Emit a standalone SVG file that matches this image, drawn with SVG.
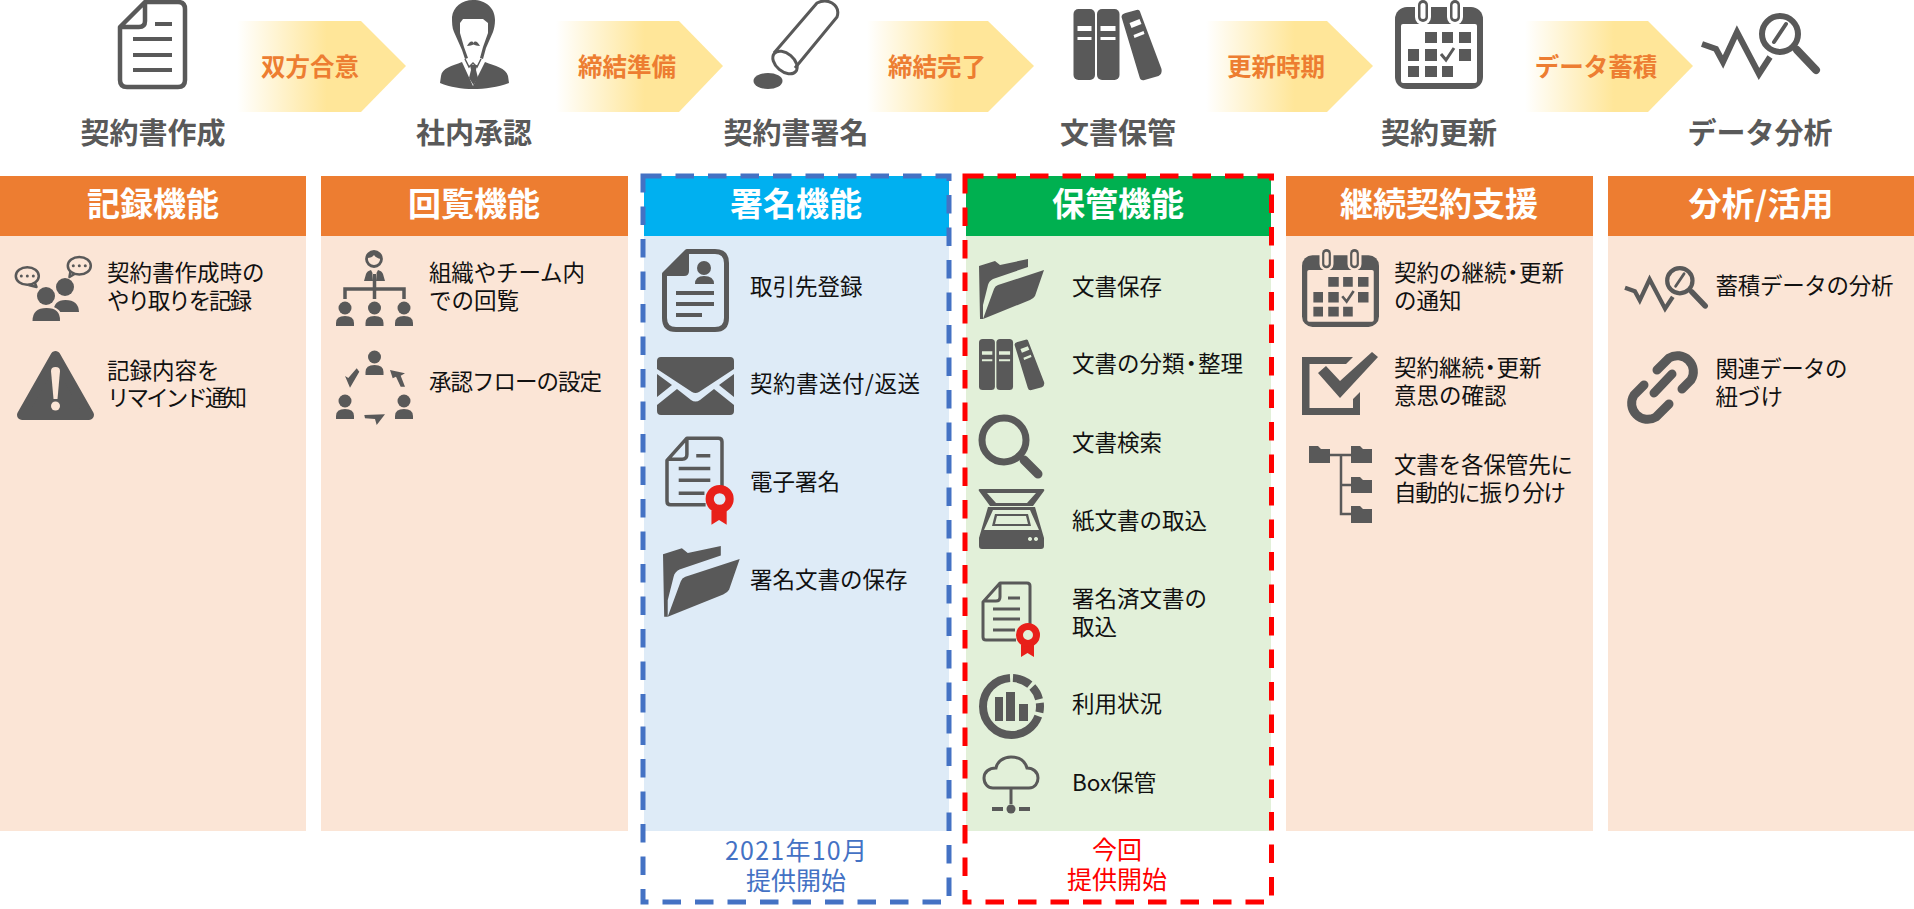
<svg xmlns="http://www.w3.org/2000/svg" width="1914" height="909" viewBox="0 0 1914 909">
<style>
text{font-family:"Noto Sans CJK JP","Noto Sans",sans-serif;dominant-baseline:central}
.d{fill:#595959}
.s{fill:none;stroke:#595959}
.b{font-size:22.5px;fill:#111}
.st{font-size:29px;font-weight:700;fill:#595959;text-anchor:middle}
.hd{font-size:33px;font-weight:700;fill:#fff;text-anchor:middle}
.ar{font-size:24.5px;font-weight:700;fill:#ED7D31;text-anchor:middle}
.ft{font-size:25px;text-anchor:middle}
.or{fill:#ED7D31}.ot{fill:#FBE5D6}
</style>
<defs>
<linearGradient id="gr" x1="0" x2="1" y1="0" y2="0"><stop offset="0" stop-color="#FFE699" stop-opacity="0"/><stop offset=".53" stop-color="#FFE699"/><stop offset="1" stop-color="#FFE699"/></linearGradient>
<symbol id="doc" overflow="visible"><path class="s" stroke-width="4.500" stroke-linejoin="round" d="M27 2H60Q67 2 67 9V80Q67 87 60 87H9Q2 87 2 80V27ZM27 2V21Q27 27 21 27H2"/><path class="s" stroke-width="4" d="M37 24H54M15 39H54M15 55H54M15 70H54"/></symbol>
<symbol id="binder" overflow="visible"><rect class="d" x="0" y="0" width="21.500" height="71" rx="5"/><rect class="d" x="23.500" y="0" width="22.500" height="71" rx="5"/><path class="d" d="M48 8Q48 5 52 4L63 1Q66 0 67 4L88 60Q89 65 85 67L71 71Q67 72 66 68Z"/><path d="M4 17H18V22H4ZM4 28H18V31H4ZM27 17H42V22H27ZM27 28H42V31H27ZM56 14L66 10L68 15L58 19ZM60 26L70 22L71 25L61 29Z"/></symbol>
<symbol id="cal" overflow="visible"><rect class="d" x="0" y="7" width="88" height="82" rx="12"/><rect x="6" y="24" width="76" height="59" rx="2"/><rect x="20" y="-1" width="16" height="26" rx="8"/><rect x="52" y="-1" width="16" height="26" rx="8"/><rect class="d" x="23" y="0" width="10" height="22" rx="5"/><rect class="d" x="55" y="0" width="10" height="22" rx="5"/><rect x="25.500" y="3" width="5" height="16" rx="2.500"/><rect x="57.500" y="3" width="5" height="16" rx="2.500"/><path class="d" d="M30 32H42V43H30ZM47 32H58V43H47ZM64 32H76V43H64ZM13 49H24V61H13ZM30 49H42V61H30ZM64 49H76V61H64ZM13 66H24V77H13ZM30 66H42V77H30ZM47 66H58V77H47Z"/><path class="s" stroke-width="3" d="M46 54L51 60L59 48"/></symbol>
<symbol id="mag" overflow="visible"><path class="s" stroke-width="6" d="M0 31L14 36L21 49L35 19L57 61L68 44"/><circle class="s" cx="78" cy="21" r="18" stroke-width="6"/><path class="s" stroke-width="8" stroke-linecap="round" d="M95 37L114 57"/><path class="s" stroke-width="4" stroke-linecap="round" d="M84 11L72 29"/></symbol>
<symbol id="folder" overflow="visible"><path class="d" d="M0 7L16 2L21 6L49 0V8L14 20Q10 22 9 26L4 46L4 60H1ZM65 11L19 26Q16 27 15 30L4 60L51 41Q55 39 56 37Z"/></symbol>
<symbol id="lens" overflow="visible"><circle class="s" cx="25" cy="26" r="22" stroke-width="7"/><path class="s" stroke-width="4" d="M38 39L45 47"/><path class="s" stroke-width="9" stroke-linecap="round" d="M45 46L59 60"/></symbol>
<symbol id="scan" overflow="visible"><path class="d" d="M1 0H64Q66 0 65 2L54 17H11L0 2Q-1 0 1 0ZM9 18H56L65 49V57Q65 60 62 60H3Q0 60 0 57V49Z"/><path d="M8 4H57L48 14H17ZM14 21H51L60 41H5Z"/><path class="d" d="M16 25H49L52 37H13Z"/><path d="M18 27H47L49 35H16ZM51 48a2 2 0 1 0 .01 0ZM57 48a2 2 0 1 0 .01 0Z"/></symbol>
<symbol id="cert" overflow="visible"><path class="s" stroke-width="3" stroke-linejoin="round" d="M33 58H3Q0 58 0 55V20L17 1H44Q47 1 47 4V42M17 1V15Q17 19 13 19H0"/><path class="s" stroke-width="3" d="M25 16H37M10 27H37M10 37H37M10 48H32"/><path d="M38 63H51V75L44.500 71L38 75Z" fill="#E8201A"/><circle cx="45" cy="53" r="8.500" fill="none" stroke="#E8201A" stroke-width="7"/></symbol>
<symbol id="contact" overflow="visible"><path class="s" stroke-width="5" stroke-linejoin="round" d="M25 2.500H53Q64.500 2.500 64.500 14V69Q64.500 80.500 53 80.500H14Q2.500 80.500 2.500 69V25Z"/><path class="d" d="M27 1V22Q27 27 22 27H1Z"/><circle class="d" cx="42" cy="19" r="7"/><path class="d" d="M33 35Q33 27 42 27Q52 27 52 35Z"/><path class="s" stroke-width="4" d="M14 44H52M14 55H52M14 66H40"/></symbol>
<symbol id="env" overflow="visible"><path class="d" d="M4 0H73Q77 0 77 4V12L42 35Q38.500 37 35 35L0 12V4Q0 0 4 0ZM0 17L15 28L0 40ZM77 17V40L62 28ZM0 48L20 32L34 43Q38.500 46 43 43L57 32L77 48V54Q77 58 73 58H4Q0 58 0 54Z"/></symbol>
<symbol id="p" overflow="visible"><circle class="d" cx="0" cy="0" r="6.500"/><path class="d" d="M-9 18V15Q-9 8 0 8Q9 8 9 15V18Z"/></symbol>
<symbol id="dial" overflow="visible"><circle cx="32.500" cy="32.500" r="28.500" fill="none" stroke="#595959" stroke-width="8" pathLength="360" stroke-dasharray="37 7 28 8 19 8 247 6" stroke-dashoffset="-3" transform="rotate(-90 32.500 32.500)"/><path class="d" d="M16 23H24V47H16ZM27 18H36V47H27ZM40 30H49V47H40Z"/></symbol>
</defs>

<g id="connectors">
<path fill="url(#gr)" d="M237 21H361L406 66L361 112H237Z"/>
<path fill="url(#gr)" d="M556 21H679L723 66L679 112H556Z"/>
<path fill="url(#gr)" d="M867 21H988L1034 66L988 112H867Z"/>
<path fill="url(#gr)" d="M1206 21H1327L1373 66L1327 112H1206Z"/>
<path fill="url(#gr)" d="M1525 21H1648L1693 66L1648 112H1525Z"/>
<text class="ar" x="310" y="65">双方合意</text>
<text class="ar" x="627" y="65">締結準備</text>
<text class="ar" x="937" y="65">締結完了</text>
<text class="ar" x="1276" y="65">更新時期</text>
<text class="ar" x="1596" y="65">データ蓄積</text>
</g>

<g id="step-create"><use href="#doc" transform="translate(118 0)"/><text class="st" x="153" y="131">契約書作成</text></g>
<g id="step-approve">
<g transform="translate(440 0)">
<path class="d" d="M33 0C46 0 55 8 55 20C55 25 54 29 53 32L46 48L43 59L40 58L43 47L48 33L48 23L43 19H23L20 23L20 33L24 47L28 58L25 59L22 50L14 32C12 28 12 22 12 17C13 7 22 0 33 0Z"/>
<path class="d" d="M33.500 43C35 40 38 42 40 46C37 46 35 45 33.500 44.500C32 45 30 46 27 46C29 42 32 40 33.500 43Z"/>
<path class="d" d="M22 62C12 66 2 68 1 76L0 83C10 87 22 89 33 89C45 89 58 87 69 83L68 76C66 68 55 66 45 62L33 86Z"/>
<path class="s" stroke-width="1.500" d="M25 59L29 67L33 63L37 67L41 59"/>
<path class="d" d="M30 65H37L36 70L38 78L33.500 85L29 78L31 70Z"/>
</g>
<text class="st" x="474" y="131">社内承認</text></g>
<g id="step-sign">
<path class="s" stroke-width="3" d="M774 53L817 3Q825 -1 832 3Q840 8 837 17L795 68"/>
<ellipse class="s" cx="785" cy="62.500" rx="14" ry="9" transform="rotate(40 785 62.500)" stroke-width="3"/>
<ellipse class="d" cx="768" cy="81" rx="14.500" ry="8"/>
<text class="st" x="796" y="131">契約書署名</text></g>
<g id="step-store"><use href="#binder" fill="#fff" transform="translate(1073.500 9)"/><text class="st" x="1118" y="131">文書保管</text></g>
<g id="step-renew"><use href="#cal" fill="#fff" transform="translate(1395 0)"/><text class="st" x="1439" y="131">契約更新</text></g>
<g id="step-analyze"><use href="#mag" transform="translate(1702 13)"/><text class="st" x="1760" y="131">データ分析</text></g>

<g id="col-record">
<rect class="ot" x="0" y="236" width="306" height="595"/><rect class="or" x="0" y="176" width="306" height="60"/>
<text class="hd" x="153" y="202">記録機能</text>
<g transform="translate(15.500 255)">
<ellipse class="s" cx="11.800" cy="21" rx="11.500" ry="8.800" stroke-width="2.500"/><path class="s" stroke-width="2.500" stroke-linejoin="round" d="M13 30L21 32L19 27"/>
<ellipse class="s" cx="63.800" cy="10.700" rx="11.500" ry="8.800" stroke-width="2.500"/><path class="s" stroke-width="2.500" stroke-linejoin="round" d="M59 19L54 22L55 16"/>
<circle class="d" cx="5.800" cy="21" r="1.500"/><circle class="d" cx="11.800" cy="21" r="1.500"/><circle class="d" cx="17.800" cy="21" r="1.500"/><circle class="d" cx="57.800" cy="10.700" r="1.500"/><circle class="d" cx="63.800" cy="10.700" r="1.500"/><circle class="d" cx="69.800" cy="10.700" r="1.500"/>
<circle class="d" cx="49.500" cy="32" r="9"/><path class="d" d="M38 57H63.500Q63 45 50 45Q38 45 38 57Z"/>
<path fill="#FBE5D6" d="M15 68Q15 51 31 51Q48 51 47 68Z"/>
<circle cx="30.500" cy="41" r="10" fill="#FBE5D6"/>
<circle class="d" cx="30.500" cy="41" r="9"/><path class="d" d="M17 66Q17 53 31 53Q45 53 44.500 66Z"/>
</g>
<text class="b"><tspan x="107" y="271">契約書作成時の</tspan><tspan x="107" y="299" textLength="145" lengthAdjust="spacing">やり取りを記録</tspan></text>
<g transform="translate(17 351)"><path class="d" stroke="#595959" stroke-width="10" stroke-linejoin="round" d="M38.500 5L72 64H5Z"/><path fill="#FBE5D6" d="M34 20Q34 16 38.500 16Q43 16 43 20L40.500 48H36.500Z"/><circle cx="38.500" cy="55" r="4.500" fill="#FBE5D6"/></g>
<text class="b"><tspan x="107" y="369">記録内容を</tspan><tspan x="107" y="396" textLength="140" lengthAdjust="spacing">リマインド通知</tspan></text>
</g>

<g id="col-review">
<rect class="ot" x="321" y="236" width="307" height="595"/><rect class="or" x="321" y="176" width="307" height="60"/>
<text class="hd" x="474" y="202">回覧機能</text>
<g transform="translate(336 250)">
<circle class="s" cx="38" cy="9" r="7.500" stroke-width="2.800"/><path class="d" d="M31 8Q32 2 38 2Q45 2 45 9Q40 8 38 5Q36 8 31 8Z"/>
<path class="d" d="M28 31L30 24Q31 21 35 20L36.500 23L36 31ZM49 31L47 24Q46 21 42 20L40.500 23L41 31ZM37 24H40L41 31H36Z"/>
<path class="s" stroke-width="3.500" d="M38.500 31V49M9 49V39H68V49"/>
<use href="#p" transform="translate(9 58)"/><use href="#p" transform="translate(38.500 58)"/><use href="#p" transform="translate(68 58)"/>
</g>
<text class="b"><tspan x="429" y="271" textLength="156" lengthAdjust="spacing">組織やチーム内</tspan><tspan x="429" y="299">での回覧</tspan></text>
<g transform="translate(336 350)">
<use href="#p" transform="translate(38.500 7)"/><use href="#p" transform="translate(9 51)"/><use href="#p" transform="translate(68 51)"/>
<path class="d" d="M9 26L12.300 28L20.700 18.300L23.300 21.700L14 37.700ZM54 20L69 23.300L64.700 25.700L69 36.700H64.700L60 26.700L56.700 28.300ZM28.300 65L49 64.300L40.700 75L39 69L29 68.300Z"/>
</g>
<text class="b" x="429" y="380" textLength="173" lengthAdjust="spacing">承認フローの設定</text>
</g>

<g id="col-sign">
<rect fill="#DEEBF7" x="644" y="236" width="305" height="595"/><rect fill="#00B0F0" x="644" y="176" width="305" height="60"/>
<text class="hd" x="796" y="202">署名機能</text>
<use href="#contact" fill="#DEEBF7" transform="translate(662 249)"/><text class="b" x="750" y="285">取引先登録</text>
<use href="#env" transform="translate(657 357)"/><text class="b" x="750" y="382" textLength="170" lengthAdjust="spacing">契約書送付/返送</text>
<use href="#cert" transform="translate(667 437) scale(1.170)"/><text class="b" x="750" y="480">電子署名</text>
<use href="#folder" transform="translate(663 546) scale(1.180)"/><text class="b" x="750" y="578">署名文書の保存</text>
<path fill="none" stroke="#4472C4" stroke-width="5" stroke-dasharray="18.500 14" d="M643 176H949V902H643Z"/>
<text class="ft" fill="#4472C4"><tspan x="796" y="849" textLength="142" lengthAdjust="spacing">2021年10月</tspan><tspan x="796" y="879">提供開始</tspan></text>
</g>

<g id="col-store">
<rect fill="#E2F0D9" x="966" y="236" width="305" height="595"/><rect fill="#00B050" x="966" y="176" width="305" height="60"/>
<text class="hd" x="1118" y="202">保管機能</text>
<use href="#folder" transform="translate(979 259)"/><text class="b" x="1072" y="285">文書保存</text>
<use href="#binder" fill="#E2F0D9" transform="translate(979 339) scale(.74 .72)"/><text class="b" x="1072 1094.500 1117 1139.500 1162 1180 1198 1220.500" y="362">文書の分類・整理</text>
<use href="#lens" transform="translate(979 414)"/><text class="b" x="1072" y="441">文書検索</text>
<use href="#scan" fill="#E2F0D9" transform="translate(979 489)"/><text class="b" x="1072" y="519">紙文書の取込</text>
<use href="#cert" transform="translate(983 582)"/><text class="b"><tspan x="1072" y="597">署名済文書の</tspan><tspan x="1072" y="625">取込</tspan></text>
<use href="#dial" transform="translate(979 674)"/><text class="b" x="1072" y="702">利用状況</text>
<g transform="translate(983 756)"><path class="s" stroke-width="3" d="M10 32H46C52 32 55 27 55 22C55 16 50 12 44 12C42 5 36 1 28 1C20 1 14 6 13 12C6 12 1 16 1 22C1 28 5 32 10 32Z"/><path class="s" stroke-width="3" d="M28 32V48"/><circle class="d" cx="28" cy="53" r="4.500"/><path class="s" stroke-width="4" d="M9 53H20M36 53H47"/></g>
<text class="b" x="1072" y="781">Box保管</text>
<path fill="none" stroke="#FF0000" stroke-width="5" stroke-dasharray="18.500 14" d="M965 176H1271.500V902H965Z"/>
<text class="ft" fill="#FF0000"><tspan x="1117" y="848">今回</tspan><tspan x="1117" y="878">提供開始</tspan></text>
</g>

<g id="col-renew">
<rect class="ot" x="1286" y="236" width="307" height="595"/><rect class="or" x="1286" y="176" width="307" height="60"/>
<text class="hd" x="1439" y="202">継続契約支援</text>
<use href="#cal" fill="#FBE5D6" transform="translate(1302 249) scale(.875)"/><text class="b"><tspan x="1394 1416.500 1439 1461.500 1484 1501.500 1519 1541.500" y="271">契約の継続・更新</tspan><tspan x="1394" y="299">の通知</tspan></text>
<g transform="translate(1302 352)"><path class="d" d="M0 5H51L44 12H7.500V56H51V47L58 40V63H0ZM16 21L24 14L38 29L70 0L76 5L38 46Z"/></g>
<text class="b"><tspan x="1394 1416.500 1439 1461.500 1479 1496.500 1519" y="366">契約継続・更新</tspan><tspan x="1394" y="394">意思の確認</tspan></text>
<g transform="translate(1309 446)"><path class="s" stroke-width="2.500" d="M21 9H42M32 9V68H42M32 39H42"/><path class="d" d="M0 0H9L12 3H21V17H0ZM42 0H51L54 3H63V17H42ZM42 31H51L54 34H63V47H42ZM42 60H51L54 63H63V77H42Z"/></g>
<text class="b"><tspan x="1394" y="463" textLength="179" lengthAdjust="spacing">文書を各保管先に</tspan><tspan x="1394" y="491" textLength="172" lengthAdjust="spacing">自動的に振り分け</tspan></text>
</g>

<g id="col-analyze">
<rect class="ot" x="1608" y="236" width="306" height="595"/><rect class="or" x="1608" y="176" width="306" height="60"/>
<text class="hd" x="1761" y="202">分析/活用</text>
<use href="#mag" transform="translate(1625 266) scale(.703 .7)"/><text class="b" x="1715.500" y="284" textLength="178" lengthAdjust="spacing">蓄積データの分析</text>
<g transform="translate(1625 347)"><path class="s" stroke-width="9" stroke-linecap="round" d="M32 23L44 11A16 16 0 0 1 66 33L57 42M47 27L29 46M19 38L9 48A16 16 0 0 0 31 70L44 57"/></g>
<text class="b"><tspan x="1715.500" y="367" textLength="132" lengthAdjust="spacing">関連データの</tspan><tspan x="1715.500" y="395">紐づけ</tspan></text>
</g>
</svg>
